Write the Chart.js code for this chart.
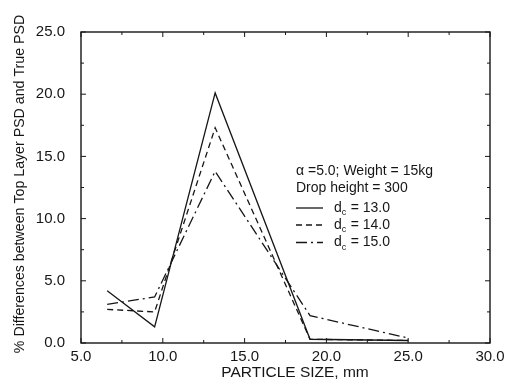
<!DOCTYPE html>
<html>
<head>
<meta charset="utf-8">
<script src="https://cdn.jsdelivr.net/npm/chart.js@4.4.1/dist/chart.umd.min.js"></script>
<style>
  html, body { margin: 0; padding: 0; background: #fff; }
  #wrap { width: 505px; height: 382px; }
</style>
</head>
<body>
<div id="wrap"><canvas id="psdChart" width="505" height="382"></canvas></div>
<script>
const PARTICLE_SIZE = [6.6, 9.5, 13.2, 19.0, 25.0];
const DC_13 = [4.2, 1.3, 20.1, 0.3, 0.2];
const DC_14 = [2.7, 2.5, 17.3, 0.3, 0.2];
const DC_15 = [3.1, 3.7, 13.8, 2.2, 0.4];
const SERIES_LABELS = ["13.0", "14.0", "15.0"];
const X_TICKS = [5, 10, 15, 20, 25, 30];
const Y_TICKS = [0, 5, 10, 15, 20, 25];

const INK = "#161616";
const FONT = "Liberation Sans, Arial, sans-serif";
const DASHES = [[], [6, 4], [11, 4, 2, 4]];

function toPoints(ys) {
  return PARTICLE_SIZE.map((x, i) => ({ x: x, y: ys[i] }));
}

function lineSet(label, ys, idx) {
  return {
    label: label,
    data: toPoints(ys),
    showLine: true,
    borderColor: INK,
    borderWidth: 1.3,
    borderDash: DASHES[idx],
    pointRadius: 0,
    tension: 0
  };
}

// frame, inward ticks, axis titles and the legend box
const decorations = {
  id: "decorations",
  afterDraw(chart) {
    const { ctx, chartArea: a, scales } = chart;
    const xs = scales.x, ys = scales.y;
    ctx.save();
    ctx.strokeStyle = INK;
    ctx.lineWidth = 1.4;
    ctx.setLineDash([]);
    ctx.strokeRect(a.left, a.top, a.right - a.left, a.bottom - a.top);

    ctx.lineWidth = 1;
    for (let v = 5; v <= 30; v += 2.5) {
      const px = xs.getPixelForValue(v);
      const len = v % 5 === 0 ? 5 : 3;
      ctx.beginPath();
      ctx.moveTo(px, a.bottom); ctx.lineTo(px, a.bottom - len);
      ctx.moveTo(px, a.top); ctx.lineTo(px, a.top + len);
      ctx.stroke();
    }
    for (let v = 0; v <= 25; v += 2.5) {
      const py = ys.getPixelForValue(v);
      const len = v % 5 === 0 ? 5 : 3;
      ctx.beginPath();
      ctx.moveTo(a.left, py); ctx.lineTo(a.left + len, py);
      ctx.moveTo(a.right, py); ctx.lineTo(a.right - len, py);
      ctx.stroke();
    }

    ctx.fillStyle = INK;
    ctx.textAlign = "center";
    ctx.textBaseline = "middle";
    ctx.font = "15.5px " + FONT;
    ctx.fillText("PARTICLE SIZE, mm", 295, 373);

    ctx.save();
    ctx.translate(20, 184);
    ctx.rotate(-Math.PI / 2);
    ctx.font = "14.2px " + FONT;
    ctx.fillText("% Differences between Top Layer PSD and True PSD", 0, 0);
    ctx.restore();

    // legend
    ctx.textAlign = "left";
    ctx.font = "14px " + FONT;
    ctx.fillText("\u03b1 =5.0; Weight = 15kg", 296, 171);
    ctx.fillText("Drop height = 300", 296, 188);
    const rows = [208, 225, 242.5];
    rows.forEach((y, i) => {
      ctx.setLineDash(DASHES[i]);
      ctx.lineWidth = 1.3;
      ctx.beginPath();
      ctx.moveTo(296, y); ctx.lineTo(323, y);
      ctx.stroke();
      ctx.setLineDash([]);
      ctx.font = "14px " + FONT;
      ctx.fillText("d", 334, y);
      const dw = ctx.measureText("d").width;
      ctx.font = "9px " + FONT;
      ctx.fillText("c", 334 + dw, y + 5);
      ctx.font = "14px " + FONT;
      ctx.fillText(" = " + SERIES_LABELS[i], 334 + dw + 5, y);
    });
    ctx.restore();
  }
};

new Chart(document.getElementById("psdChart"), {
  type: "scatter",
  data: {
    datasets: [
      lineSet("dc = 13.0", DC_13, 0),
      lineSet("dc = 14.0", DC_14, 1),
      lineSet("dc = 15.0", DC_15, 2)
    ]
  },
  options: {
    responsive: false,
    animation: false,
    layout: { padding: { top: 32, right: 15, left: 0, bottom: 0 } },
    plugins: {
      legend: { display: false },
      tooltip: { enabled: false }
    },
    scales: {
      x: {
        type: "linear",
        min: 5,
        max: 30,
        afterBuildTicks(scale) { scale.ticks = X_TICKS.map((v) => ({ value: v })); },
        afterFit(scale) { scale.height = 39; },
        grid: { display: false },
        border: { display: false },
        ticks: {
          color: INK,
          padding: -3,
          maxRotation: 0,
          font: { family: FONT, size: 15 },
          callback: (v) => Number(v).toFixed(1)
        }
      },
      y: {
        type: "linear",
        min: 0,
        max: 25,
        afterBuildTicks(scale) { scale.ticks = Y_TICKS.map((v) => ({ value: v })); },
        afterFit(scale) { scale.width = 81; },
        grid: { display: false },
        border: { display: false },
        ticks: {
          color: INK,
          padding: 8,
          font: { family: FONT, size: 15 },
          callback: (v) => Number(v).toFixed(1)
        }
      }
    }
  },
  plugins: [decorations]
});
</script>
</body>
</html>
